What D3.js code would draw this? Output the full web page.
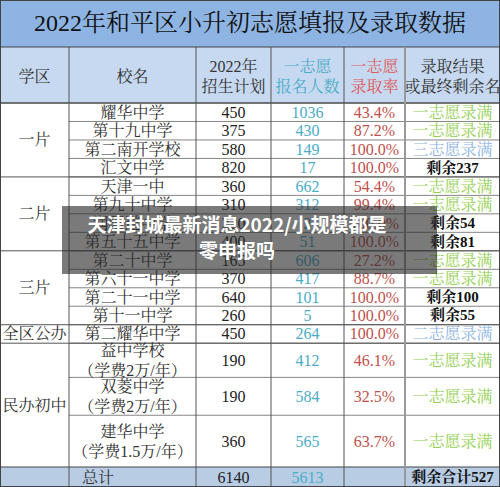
<!DOCTYPE html>
<html><head><meta charset="utf-8">
<script src="https://cdn.jsdelivr.net/npm/d3@7"></script>
<style>body{margin:0;background:#fff}svg{display:block}</style>
</head><body>
<script>
const title = "2022年和平区小升初志愿填报及录取数据";
const headers = [["学区"],["校名"],["2022年","招生计划"],["一志愿","报名人数"],["一志愿","录取率"],["录取结果","或最终剩余名"]];
const districts = [["一片",0,4],["二片",4,8],["三片",8,12],["全区公办",12,13],["民办初中",13,16]];
const schools = ["耀华中学","第十九中学","第二南开学校","汇文中学","天津一中","第九十中学","润阳道中学","第五十五中学","第二十中学","第六十一中学","第二十一中学","第十一中学","第二耀华中学","益中学校\n（学费2万/年）","双菱中学\n（学费2万/年）","建华中学\n（学费1.5万/年）"];
const plan = [450,375,580,820,360,310,220,400,165,370,640,260,450,190,190,360];
const applicants = [1036,430,149,17,662,312,2,51,606,417,101,5,264,412,584,565];
const rate = ["43.4%","87.2%","100.0%","100.0%","54.4%","99.4%","100.0%","100.0%","27.2%","88.7%","100.0%","100.0%","100.0%","46.1%","32.5%","63.7%"];
const result = ["一志愿录满","一志愿录满","三志愿录满","剩余237","一志愿录满","一志愿录满","剩余54","剩余81","一志愿录满","一志愿录满","剩余100","剩余55","二志愿录满","一志愿录满","一志愿录满","一志愿录满"];
const totals = ["总计","6140","5613","","剩余合计527"];
const rowUnits = [1,1,1,1,1,1,1,1,1,1,1,1,1,1.85,2.05,2.8];

const W=500,H=487;
const svg=d3.select("body").append("svg").attr("width",W).attr("height",H);
const font='"Liberation Serif","Noto Serif CJK SC","Noto Sans CJK SC",serif';
const colX=[0,69,196,271,344,405,500];
const cx=i=>colX[i];
const cum=[0];rowUnits.forEach(u=>cum.push(cum[cum.length-1]+u));
const y=d3.scaleLinear().domain([0,cum[cum.length-1]]).range([103,467]);

svg.append("rect").attr("x",0).attr("y",0).attr("width",W).attr("height",47).attr("fill","#8db4e2");
svg.append("rect").attr("x",0).attr("y",47).attr("width",W).attr("height",56).attr("fill","#c6d9f0");
svg.append("rect").attr("x",0).attr("y",467).attr("width",W).attr("height",20).attr("fill","#b8cce4");
svg.append("text").attr("x",250).attr("y",31).attr("text-anchor","middle").attr("font-family",font).attr("font-size",24).attr("fill","#111").text(title);

const hcol=["#333","#333","#333","#4bacc6","#e05a5a","#333"];
headers.forEach((h,i)=>{
  const t=svg.append("text").attr("x",(cx(i)+cx(i+1))/2).attr("y",h.length==1?82:72).attr("text-anchor","middle").attr("font-family",font).attr("font-size",16).attr("fill",hcol[i]);
  h.forEach((s,k)=>t.append("tspan").attr("x",(cx(i)+cx(i+1))/2).attr("dy",k?20:0).text(s));
});

const line=(x1,y1,x2,y2,c="#555",w=1)=>svg.append("line").attr("x1",x1).attr("y1",y1).attr("x2",x2).attr("y2",y2).attr("stroke",c).attr("stroke-width",w);
schools.forEach((s,i)=>{ if(i>0) line(cx(1),y(cum[i]),W,y(cum[i]),"#666",0.8); });
districts.forEach(d=>line(0,y(cum[d[1]]),W,y(cum[d[1]]),"#555",1));
line(0,47,W,47,"#444",1.2);line(0,103,W,103,"#444",1.2);line(0,467,W,467,"#444",1.2);
colX.slice(1,6).forEach((xx,i)=>line(xx,47,xx,H,i==4?"#999":"#555",i==4?2:1));
svg.append("rect").attr("x",0.5).attr("y",0.5).attr("width",W-1).attr("height",H-1).attr("fill","none").attr("stroke","#444");

const txt=(xx,yy,s,c,opts={})=>svg.append("text").attr("x",xx).attr("y",yy).attr("text-anchor","middle").attr("dominant-baseline","central").attr("font-family",font).attr("font-size",opts.size||16).attr("font-weight",opts.bold?"bold":null).attr("fill",c).text(s);
districts.forEach(d=>txt(34.5,(y(cum[d[1]])+y(cum[d[2]]))/2,d[0],"#333"));
const resCol=r=>r.startsWith("剩余")?"#111":r.startsWith("一")?"#92d050":"#8db4e2";
schools.forEach((s,i)=>{
  const yc=(y(cum[i])+y(cum[i+1]))/2;
  const parts=s.split("\n");
  if(parts.length==1) txt((cx(1)+cx(2))/2,yc,s,"#333");
  else parts.forEach((p,k)=>txt((cx(1)+cx(2))/2,yc+(k?10:-10),p,"#333"));
  txt((cx(2)+cx(3))/2,yc,plan[i],"#222");
  txt((cx(3)+cx(4))/2,yc,applicants[i],"#4bacc6");
  txt((cx(4)+cx(5))/2,yc,rate[i],"#c0504d");
  txt((cx(5)+cx(6))/2,yc,result[i],resCol(result[i]),{bold:result[i].startsWith("剩余"),size:result[i].startsWith("剩余")?15:16});
});
txt((cx(0)+cx(2))/2,477,totals[0],"#333");
txt((cx(2)+cx(3))/2,477,totals[1],"#222");
txt((cx(3)+cx(4))/2,477,totals[2],"#4bacc6");
txt((cx(5)+cx(6))/2,477,totals[4],"#111",{bold:true,size:15});
svg.append("rect").attr("x",62).attr("y",206).attr("width",375).attr("height",68).attr("fill","rgba(40,40,40,0.62)");
const ov=svg.append("g").attr("font-family",'"Noto Sans CJK SC",sans-serif').attr("font-weight","bold").attr("font-size",19).attr("fill","#fff").attr("text-anchor","middle");
ov.append("text").attr("x",237).attr("y",232).text("天津封城最新消息2022/小规模都是");
ov.append("text").attr("x",237).attr("y",258).text("零申报吗");
</script>
</body></html>
